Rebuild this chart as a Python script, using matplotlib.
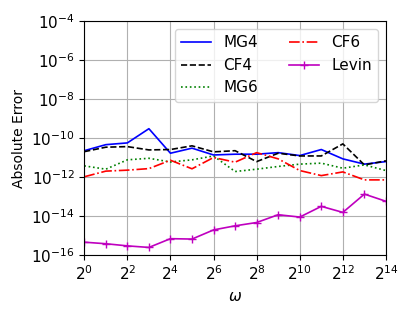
import matplotlib
matplotlib.use('Agg')
import matplotlib.pyplot as plt
import matplotlib.ticker as mticker
import numpy as np

# omega = 2^0 .. 2^14
omega_exp = list(range(15))

# log10 of absolute error
mg4_log = [-10.64, -10.33, -10.24, -9.51, -10.77, -10.51, -10.86, -10.82,
           -10.82, -10.74, -10.89, -10.58, -11.06, -11.33, -11.20]
cf4_log = [-10.69, -10.46, -10.43, -10.60, -10.58, -10.39, -10.70, -10.64,
           -11.20, -10.77, -10.91, -10.91, -10.29, -11.37, -11.16]
mg6_log = [-11.42, -11.59, -11.11, -11.03, -11.22, -11.11, -10.91, -11.71,
           -11.59, -11.45, -11.33, -11.28, -11.54, -11.37, -11.66]
cf6_log = [-11.98, -11.69, -11.64, -11.56, -11.13, -11.57, -10.99, -11.23,
           -10.74, -11.06, -11.66, -11.92, -11.73, -12.14, -12.14]
levin_log = [-15.34, -15.42, -15.53, -15.61, -15.16, -15.18, -14.71, -14.50,
             -14.33, -13.93, -14.05, -13.50, -13.81, -12.87, -13.24]

omega = 2.0 ** np.array(omega_exp)

fig = plt.figure(figsize=(4.15, 3.11), dpi=100)
ax = fig.add_axes([0.203, 0.180, 0.727, 0.751])

ax.plot(omega, 10.0 ** np.array(mg4_log), 'b-', lw=1.2, label='MG4')
ax.plot(omega, 10.0 ** np.array(cf4_log), 'k--', lw=1.2, label='CF4')
ax.plot(omega, 10.0 ** np.array(mg6_log), 'g:', lw=1.2, label='MG6')
ax.plot(omega, 10.0 ** np.array(cf6_log), 'r-.', lw=1.2, label='CF6')
ax.plot(omega, 10.0 ** np.array(levin_log), 'm-', marker='+', ms=6, lw=1.2,
        label='Levin')

ax.set_xscale('log', base=2)
ax.set_yscale('log')
ax.set_xlim(2 ** 0, 2 ** 14)
ax.set_ylim(1e-16, 1e-4)
ax.xaxis.set_major_locator(mticker.FixedLocator(2.0 ** np.arange(0, 15, 2)))
ax.yaxis.set_major_locator(mticker.FixedLocator(10.0 ** np.arange(-16, -3, 2)))
ax.xaxis.set_minor_locator(mticker.NullLocator())
ax.yaxis.set_minor_locator(mticker.NullLocator())
ax.tick_params(labelsize=11)
ax.grid(True, color='#b0b0b0', lw=0.8)

ax.set_xlabel(r'$\omega$', fontsize=11)
ax.set_ylabel('Absolute Error', fontsize=10)
ax.legend(ncol=2, loc='upper right', fontsize=11)

fig.savefig('out.png', dpi=100)
